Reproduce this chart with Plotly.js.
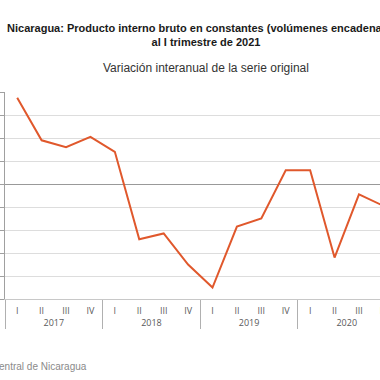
<!DOCTYPE html>
<html>
<head>
<meta charset="utf-8">
<script src="https://cdn.plot.ly/plotly-3.0.1.min.js"></script>
<style>
  html, body { margin: 0; padding: 0; overflow: hidden; background: #fff; width: 380px; height: 380px; }
  #chart { width: 430px; height: 380px; }
</style>
</head>
<body>
<div id="chart"></div>
<script>
// Data (variación interanual, %)
const years = ['2017','2017','2017','2017','2018','2018','2018','2018','2019','2019','2019','2019','2020','2020','2020','2020','2021'];
const quarters = ['I','II','III','IV','I','II','III','IV','I','II','III','IV','I','II','III','IV','I'];
const values = [7.5, 3.8, 3.2, 4.1, 2.8, -4.8, -4.3, -7.0, -9.0, -3.7, -3.0, 1.2, 1.2, -6.4, -0.9, -1.9, 3.9];

const titleLine1 = 'Nicaragua: Producto interno bruto en constantes (volúmenes encadenados)';
const titleLine2 = 'al I trimestre de 2021';
const subtitle = 'Variación interanual de la serie original';
const source = 'Fuente: Banco Central de Nicaragua';

const W = 430, H = 380;
const centerX = 206;

const trace = {
  type: 'scatter',
  mode: 'lines',
  x: [years, quarters],
  y: values,
  line: { color: '#E0582C', width: 2 },
  hoverinfo: 'skip'
};

const layout = {
  width: W,
  height: H,
  margin: { l: 5, r: 10, t: 92, b: 81 },
  paper_bgcolor: '#ffffff',
  plot_bgcolor: '#ffffff',
  showlegend: false,
  title: {
    text: '<b>' + titleLine1 + '</b><br><b>' + titleLine2 + '</b>',
    font: { family: 'Liberation Sans, Arial, sans-serif', size: 11, color: '#1a1a1a' },
    xref: 'container', x: centerX / W, xanchor: 'center',
    yref: 'container', y: 1 - 32 / H, yanchor: 'top'
  },
  annotations: [
    {
      text: subtitle,
      xref: 'paper', x: (centerX - 5) / 415, xanchor: 'center',
      yref: 'paper', y: 1, yanchor: 'middle', yshift: 24,
      showarrow: false,
      font: { family: 'Liberation Sans, Arial, sans-serif', size: 12, color: '#333333' }
    },
    {
      text: source,
      xref: 'paper', x: (89 - 5) / 415, xanchor: 'right',
      yref: 'paper', y: 0, yanchor: 'middle', yshift: -67,
      showarrow: false,
      font: { family: 'Liberation Sans, Arial, sans-serif', size: 10, color: '#8a8a8a' }
    }
  ],
  xaxis: {
    type: 'multicategory',
    range: [-0.5, 16.5],
    showline: true,
    linecolor: '#c8c8c8',
    linewidth: 1,
    showgrid: false,
    ticks: '',
    ticklabelstandoff: 3,
    showdividers: true,
    dividercolor: '#b0b0b0',
    dividerwidth: 1,
    tickfont: { family: 'Open Sans, DejaVu Sans, sans-serif', size: 9, color: '#595959' },
    fixedrange: true
  },
  yaxis: {
    range: [-10, 8],
    dtick: 2,
    tick0: 0,
    showticklabels: false,
    ticks: 'outside',
    ticklen: 5,
    tickcolor: '#a0a0a0',
    showline: true,
    linecolor: '#a0a0a0',
    linewidth: 1,
    showgrid: true,
    gridcolor: '#dddddd',
    gridwidth: 1,
    zeroline: true,
    zerolinecolor: '#999999',
    zerolinewidth: 1,
    fixedrange: true
  }
};

Plotly.newPlot('chart', [trace], layout, { displayModeBar: false, staticPlot: true });
</script>
</body>
</html>
